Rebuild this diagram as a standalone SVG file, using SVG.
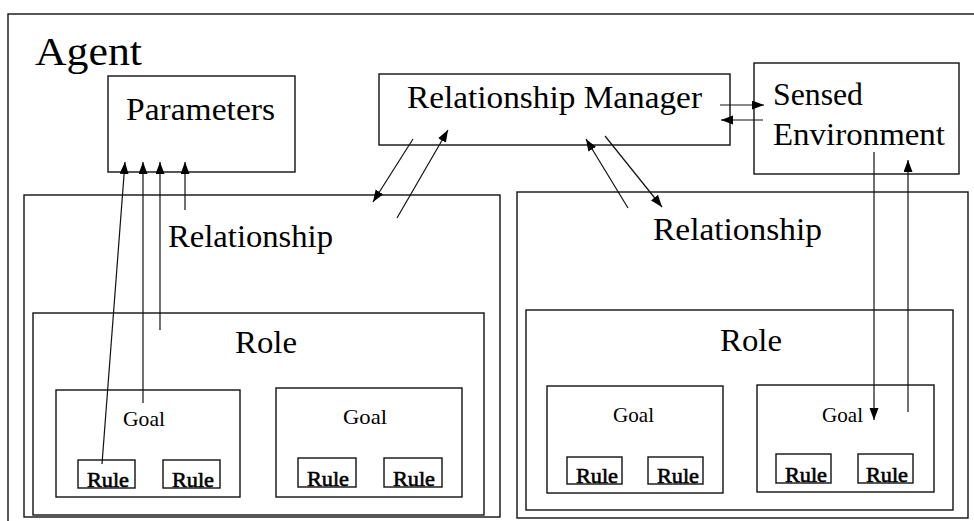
<svg xmlns="http://www.w3.org/2000/svg" width="974" height="521" viewBox="0 0 974 521">
<defs>
<style>
.box{fill:none;stroke:#111;stroke-width:1.4}
.ln{fill:none;stroke:#111;stroke-width:1.2;marker-end:url(#ah)}
.t{font-family:"Liberation Serif","Times New Roman",serif;fill:#000}
.big{font-size:40px}
.mid{font-size:31px}
.sm{font-size:21px}
.rule{font-size:21px;stroke:#000;stroke-width:0.6}
</style>
<marker id="ah" markerUnits="userSpaceOnUse" markerWidth="13" markerHeight="10" refX="12" refY="4.5" orient="auto">
<path d="M0,0 L12,4.5 L0,9 z" fill="#000"/>
</marker>
</defs>
<rect width="974" height="521" fill="#fff"/>
<g id="agent">
<rect class="box" x="8" y="14" width="990" height="530"/>
<text class="t big" x="35" y="65" textLength="107" lengthAdjust="spacingAndGlyphs">Agent</text>
</g>
<g id="parameters">
<rect class="box" x="108" y="76" width="187" height="96"/>
<text class="t mid" x="126" y="120" textLength="149" lengthAdjust="spacingAndGlyphs">Parameters</text>
</g>
<g id="manager">
<rect class="box" x="379" y="74" width="351" height="71"/>
<text class="t mid" x="407" y="108" textLength="295" lengthAdjust="spacingAndGlyphs">Relationship Manager</text>
</g>
<g id="sensed">
<rect class="box" x="754" y="63" width="205" height="111"/>
<text class="t mid" x="773" y="105" textLength="90" lengthAdjust="spacingAndGlyphs">Sensed</text>
<text class="t mid" x="773" y="145" textLength="172" lengthAdjust="spacingAndGlyphs">Environment</text>
</g>
<g id="relationship-left">
<rect class="box" x="24" y="195" width="476" height="322"/>
<text class="t mid" x="168" y="247" textLength="165" lengthAdjust="spacingAndGlyphs">Relationship</text>
</g>
<g id="relationship-right">
<rect class="box" x="517" y="192" width="451" height="326"/>
<text class="t mid" x="653" y="240" textLength="169" lengthAdjust="spacingAndGlyphs">Relationship</text>
</g>
<g id="role-left">
<rect class="box" x="33" y="313" width="451" height="202"/>
<text class="t mid" x="235" y="353" textLength="62" lengthAdjust="spacingAndGlyphs">Role</text>
</g>
<g id="role-right">
<rect class="box" x="526" y="310" width="427" height="200"/>
<text class="t mid" x="720" y="351" textLength="62" lengthAdjust="spacingAndGlyphs">Role</text>
</g>
<g id="goal-l1">
<rect class="box" x="56" y="390" width="184" height="107"/>
<text class="t sm" x="123" y="426" textLength="42" lengthAdjust="spacingAndGlyphs">Goal</text>
</g>
<g id="goal-l2">
<rect class="box" x="276" y="388" width="186" height="109"/>
<text class="t sm" x="343" y="424" textLength="44" lengthAdjust="spacingAndGlyphs">Goal</text>
</g>
<g id="goal-r1">
<rect class="box" x="547" y="386" width="176" height="107"/>
<text class="t sm" x="613" y="422" textLength="41" lengthAdjust="spacingAndGlyphs">Goal</text>
</g>
<g id="goal-r2">
<rect class="box" x="757" y="385" width="177" height="107"/>
<text class="t sm" x="822" y="422" textLength="41" lengthAdjust="spacingAndGlyphs">Goal</text>
</g>
<g id="rule-l1a">
<rect class="box" x="78" y="460" width="57" height="28"/>
<text class="t rule" x="87" y="487" textLength="42" lengthAdjust="spacingAndGlyphs">Rule</text>
</g>
<g id="rule-l1b">
<rect class="box" x="163" y="460" width="57" height="28"/>
<text class="t rule" x="172" y="487" textLength="42" lengthAdjust="spacingAndGlyphs">Rule</text>
</g>
<g id="rule-l2a">
<rect class="box" x="298" y="458" width="58" height="29"/>
<text class="t rule" x="307" y="486" textLength="42" lengthAdjust="spacingAndGlyphs">Rule</text>
</g>
<g id="rule-l2b">
<rect class="box" x="384" y="458" width="58" height="29"/>
<text class="t rule" x="393" y="486" textLength="42" lengthAdjust="spacingAndGlyphs">Rule</text>
</g>
<g id="rule-r1a">
<rect class="box" x="567" y="457" width="55" height="27"/>
<text class="t rule" x="576" y="483" textLength="42" lengthAdjust="spacingAndGlyphs">Rule</text>
</g>
<g id="rule-r1b">
<rect class="box" x="648" y="457" width="55" height="27"/>
<text class="t rule" x="657" y="483" textLength="42" lengthAdjust="spacingAndGlyphs">Rule</text>
</g>
<g id="rule-r2a">
<rect class="box" x="776" y="454" width="55" height="29"/>
<text class="t rule" x="785" y="482" textLength="42" lengthAdjust="spacingAndGlyphs">Rule</text>
</g>
<g id="rule-r2b">
<rect class="box" x="858" y="454" width="55" height="29"/>
<text class="t rule" x="866" y="482" textLength="42" lengthAdjust="spacingAndGlyphs">Rule</text>
</g>
<g id="connectors">
<line class="ln" x1="102" y1="464" x2="125" y2="162"/>
<line class="ln" x1="143" y1="403" x2="143" y2="162"/>
<line class="ln" x1="160" y1="330" x2="160" y2="162"/>
<line class="ln" x1="185" y1="210" x2="185" y2="162"/>
<line class="ln" x1="413" y1="139" x2="373" y2="202"/>
<line class="ln" x1="397" y1="218" x2="448" y2="130"/>
<line class="ln" x1="628" y1="208" x2="586" y2="139"/>
<line class="ln" x1="605" y1="136" x2="662" y2="207"/>
<line class="ln" x1="720" y1="105" x2="764" y2="105"/>
<line class="ln" x1="763" y1="120" x2="721" y2="120"/>
<line class="ln" x1="874" y1="152" x2="874" y2="420"/>
<line class="ln" x1="908" y1="412" x2="908" y2="160"/>
</g>
</svg>
